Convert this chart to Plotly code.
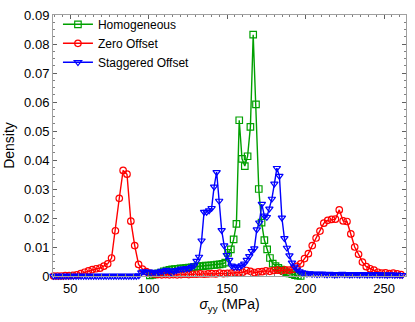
import numpy as np
import plotly.graph_objects as go

# histogram bin layout (first bin centre, bin width) per series
zero_start, zero_width = 39.42, 2.46
homo_start, homo_width = 100.74, 1.78
stag_start, stag_width = 39.3, 1.6

zero_offset = [
    0.0, 0.0, 0.0, 0.0001, 0.0001,
    0.0002, 0.0004, 0.0008, 0.0013, 0.0018, 0.0022, 0.0025, 0.0027, 0.0034, 0.0042,
    0.0062, 0.0156, 0.0268, 0.0364, 0.0351, 0.0189, 0.0105, 0.0040, 0.0024, 0.0015,
    0.0009, 0.0007, 0.0005,
    0.0004, 0.0005, 0.0004, 0.0005, 0.0004, 0.0005, 0.0006, 0.0005, 0.0006, 0.0006,
    0.0007, 0.0006, 0.0007, 0.0008, 0.0007, 0.0010, 0.0008, 0.0009,
    0.0010, 0.0012, 0.0011, 0.0013, 0.0019, 0.0016, 0.0012, 0.0014, 0.0015, 0.0018,
    0.0016, 0.0019, 0.0020, 0.0018, 0.0021, 0.0020, 0.0023,
    0.0033, 0.0042, 0.0060, 0.0077, 0.0105, 0.0131, 0.0155, 0.0182, 0.0192, 0.0195,
    0.0196, 0.0228, 0.0190, 0.0188, 0.0145, 0.0100, 0.0075, 0.0048, 0.0032, 0.0025,
    0.0020, 0.0013, 0.0010, 0.0011, 0.0008, 0.0010, 0.0007, 0.0005,
]

homogeneous = [
    0.0002, 0.0004, 0.0006, 0.0009, 0.0012, 0.0016, 0.0019, 0.0021, 0.0023, 0.0024,
    0.0025, 0.0026, 0.0026, 0.0028, 0.0029, 0.0030, 0.0031, 0.0033, 0.0033, 0.0034,
    0.0036, 0.0036, 0.0037, 0.0038, 0.0039, 0.0040, 0.0042,
    0.0046, 0.0080, 0.0092, 0.0126, 0.0180, 0.0537, 0.0404, 0.0379, 0.0413, 0.0514,
    0.0832,
    0.0592, 0.0300, 0.0184, 0.0124, 0.0092, 0.0062, 0.0043, 0.0034, 0.0028, 0.0022,
    0.0017, 0.0013, 0.0009, 0.0006, 0.0003, 0.0001, 0.0,
]

staggered = [
    0.0, 0.0, 0.0, 0.0, 0.0, 0.0, 0.0, 0.0, 0.0, 0.0,
    0.0, 0.0, 0.0, 0.0, 0.0, 0.0, 0.0, 0.0, 0.0, 0.0,
    0.0, 0.0, 0.0, 0.0, 0.0, 0.0, 0.0, 0.0, 0.0, 0.0,
    0.0, 0.0, 0.0, 0.0,
    0.0002, 0.0012, 0.0016, 0.0013, 0.0015, 0.0012, 0.0014, 0.0011, 0.0013, 0.0017,
    0.0015, 0.0021, 0.0019, 0.0011, 0.0016, 0.0020, 0.0022, 0.0025, 0.0024, 0.0027,
    0.0026, 0.0031, 0.0036, 0.0052, 0.0066, 0.0122, 0.0221, 0.0221, 0.0226, 0.0234,
    0.0308,
    0.0358, 0.0259, 0.0158, 0.0105, 0.0072, 0.0055, 0.0035, 0.0031, 0.0032, 0.0031,
    0.0036, 0.0042, 0.0055, 0.0068, 0.0085, 0.0095, 0.0160, 0.0184, 0.0248, 0.0208,
    0.0203, 0.0232, 0.0266, 0.0318, 0.0372, 0.0345, 0.0201, 0.0130, 0.0097, 0.0071,
    0.0046, 0.0032, 0.0022, 0.0016, 0.0012, 0.0010,
    0.0008, 0.0009, 0.0007, 0.0008, 0.0006, 0.0007, 0.0008, 0.0006, 0.0005, 0.0007,
    0.0006, 0.0004, 0.0005, 0.0006, 0.0007, 0.0005, 0.0006, 0.0004, 0.0005, 0.0006,
    0.0005, 0.0004, 0.0006, 0.0005, 0.0004, 0.0005, 0.0004, 0.0006, 0.0005, 0.0004,
    0.0005, 0.0004, 0.0003, 0.0005, 0.0004, 0.0003, 0.0004, 0.0003, 0.0003,
]

series = [
    ("Homogeneous", homogeneous, homo_start, homo_width, "#00a000", "square-open"),
    ("Zero Offset", zero_offset, zero_start, zero_width, "#ff0000", "circle-open"),
    ("Staggered Offset", staggered, stag_start, stag_width, "#0000ff", "triangle-down-open"),
]

fig = go.Figure()
for name, y, start, width, color, symbol in series:
    x = start + width * np.arange(len(y))
    fig.add_trace(go.Scatter(
        x=x, y=y, name=name, mode="lines+markers",
        line=dict(color=color, width=1.4),
        marker=dict(symbol=symbol, size=6.5, color=color, line=dict(width=1.2, color=color)),
        cliponaxis=False,
    ))

axis_common = dict(
    showline=True, linecolor="#a0a0a0", linewidth=1, mirror="allticks",
    ticks="inside", ticklen=4, tickcolor="#606060", showgrid=False, zeroline=False,
    tickfont=dict(size=13, color="black"),
)

fig.update_xaxes(
    range=[39, 264], dtick=50, tick0=0,
    minor=dict(ticks="inside", ticklen=2, dtick=5, tickcolor="#808080"),
    title=dict(text="<i>σ</i><sub>yy</sub> (MPa)", font=dict(size=14), standoff=4),
    **axis_common,
)
fig.update_yaxes(
    range=[0, 0.09], dtick=0.01,
    minor=dict(ticks="inside", ticklen=2, dtick=0.0025, tickcolor="#808080"),
    title=dict(text="Density", font=dict(size=14), standoff=6),
    **axis_common,
)

fig.update_layout(
    width=415, height=322,
    margin=dict(l=52, r=8, t=10, b=46),
    font=dict(family="Liberation Sans, Arial, Helvetica, sans-serif", size=13, color="black"),
    paper_bgcolor="white", plot_bgcolor="white",
    legend=dict(x=0.014, y=1.02, xanchor="left", yanchor="top", bgcolor="rgba(0,0,0,0)",
                font=dict(size=12), itemwidth=30, tracegroupgap=0),
    showlegend=True,
)

# the page's default body margin would shift the figure by 8px
fig.write_html("out.html", config={"displayModeBar": False},
               post_script="document.body.style.margin='0px';")
